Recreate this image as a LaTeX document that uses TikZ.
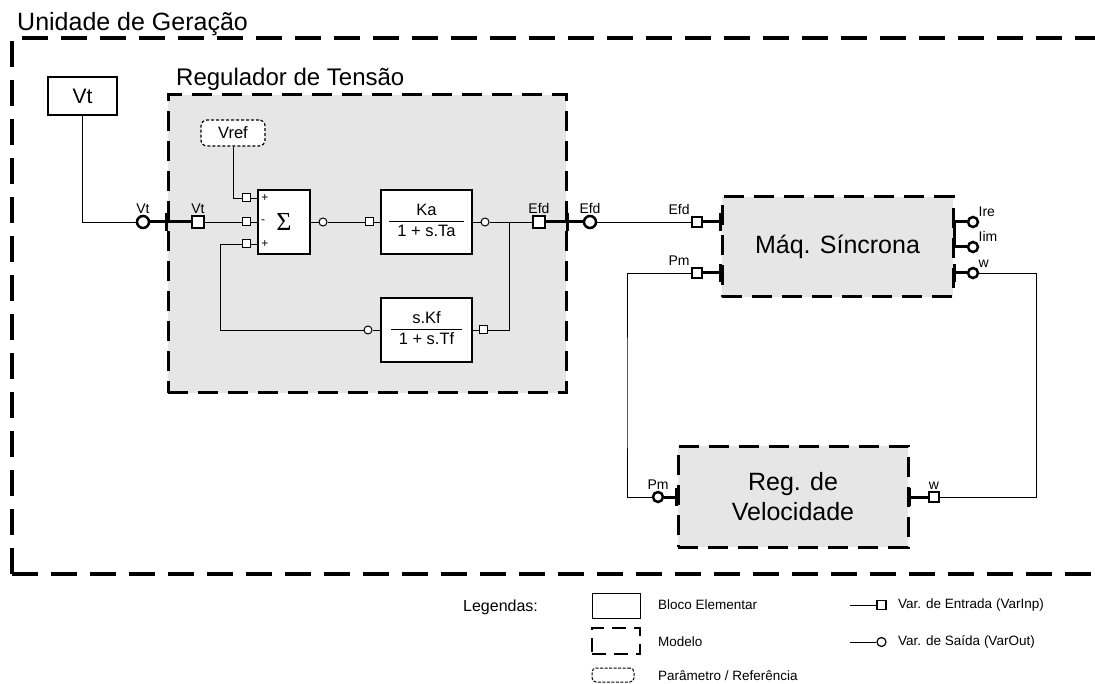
\documentclass[tikz,border=0pt]{standalone}
\usepackage{fontspec}
\setmainfont{Liberation Sans}
\newfontfamily\sigmafont{Liberation Serif}
\usepackage{tikz}
\usetikzlibrary{calc,positioning}
\definecolor{modelgray}{HTML}{E6E6E6}
\setlength{\arrayrulewidth}{1pt}
\tikzset{
  elem/.style     = {draw, fill=white, line width=1.3pt, inner sep=0pt, font=\fontsize{16.5}{19.5}\selectfont},
  modelo/.style   = {draw, fill=modelgray, line width=3pt, dash pattern=on 20pt off 10pt, inner sep=0pt, align=center, font=\fontsize{25}{30}\selectfont},
  param/.style    = {draw, fill=white, rounded corners=6pt, line width=1.2pt, dash pattern=on 3pt off 2pt, font=\fontsize{16.5}{19}\selectfont, minimum width=64pt, minimum height=26pt},
  vin/.style      = {draw, fill=white, rectangle, inner sep=0pt, minimum size=8pt, line width=1pt},
  vout/.style     = {draw, fill=white, circle, inner sep=0pt, minimum size=8pt, line width=1pt},
  vinbig/.style   = {vin, minimum size=12pt, line width=2.5pt},
  voutbig/.style  = {vout, minimum size=12pt, line width=2.5pt},
  vinmid/.style   = {vin, minimum size=10pt, line width=2.5pt},
  voutmid/.style  = {vout, minimum size=10pt, line width=2.5pt},
  wire/.style     = {line width=0.9pt},
  portline/.style = {line width=3pt},
  lbl/.style      = {font=\fontsize{14}{14}\selectfont, inner sep=1pt},
  sign/.style     = {font=\fontsize{12}{12}\selectfont, inner sep=0pt},
  title/.style    = {anchor=base west, inner sep=0pt, font=\fontsize{25}{30}\selectfont},
  legtxt/.style   = {anchor=west, inner sep=0pt, font=\fontsize{13.5}{16}\selectfont},
}
\newcommand{\blkfrac}[2]{\begin{tabular}{@{\hspace{8pt}}c@{\hspace{8pt}}}#1\\\hline #2\end{tabular}}
\newcommand{\porttick}[2]{\draw[portline] (#1 -| #2) ++(0,-9) -- ++(0,18);}

\begin{document}
\begin{tikzpicture}[x=1pt, y=-1pt]
    \useasboundingbox (0,0) rectangle (1095,684);

    % Unidade de Geracao
    \draw[line width=4pt, dash pattern=on 26pt off 13pt] (12,574) -- (12,38) -- (1100,38);
    \draw[line width=4pt, dash pattern=on 26pt off 13pt] (12,574) -- (1100,574);
    \node[title] (tunid) at (17,31) {Unidade de Geração};
    \node[elem, minimum width=69pt, minimum height=38pt, font=\fontsize{21}{25}\selectfont] (vt) at (82.5,96) {Vt};

    % Regulador de Tensao
    \node[modelo, minimum width=398pt, minimum height=298pt] (reg) at (367,244) {};
    \node[title, font=\fontsize{24}{29}\selectfont] (treg) at (176,86) {Regulador de Tensão};
    \node[param] (vref) at (233,133) {Vref};
    \node[elem, minimum width=52pt, minimum height=64pt] (sum) at (284,222) {\sigmafont\fontsize{26}{26}\selectfont Σ};
    \node[elem, minimum width=91pt, minimum height=64pt] (ka) at (426.5,222) {\blkfrac{Ka}{1 + s.Ta}};
    \node[elem, minimum width=91pt, minimum height=64pt] (kf) at (426.5,330) {\blkfrac{s.Kf}{1 + s.Tf}};
    \node[sign] (sp1) at (265,198) {+};
    \node[sign] (sm2) at (263,222) {-};
    \node[sign] (sp3) at (265,244) {+};

    % Ports of the regulator
    \node[voutbig, label={[lbl]above:Vt}] (vtout) at (143,222) {};
    \node[vinbig, label={[lbl]above:Vt}] (vtin) at (198,222) {};
    \node[vin] (s1) at (246,198) {};
    \node[vin] (s2) at (246,222) {};
    \node[vin] (s3) at (246,244) {};
    \node[vout] (sout) at (323,222) {};
    \node[vin] (kain) at (369,222) {};
    \node[vout] (kaout) at (485,222) {};
    \node[vin] (kfin) at (483,330) {};
    \node[vout] (kfout) at (368,330) {};
    \node[vinbig, label={[lbl]above:Efd}] (efdin) at (539,222) {};
    \node[voutbig, label={[lbl]above:Efd}] (efdout) at (590,222) {};

    % Maquina sincrona
    \node[modelo, minimum width=231pt, minimum height=100pt] (maq) at (837.5,247) {Máq. Síncrona};
    \node[vinmid, label={[lbl]above left:Efd}] (mefd) at (697,222) {};
    \node[vinmid, label={[lbl]above left:Pm}] (mpm) at (697,273) {};
    \node[voutmid, label={[lbl]above right:Ire}] (ire) at (973,222) {};
    \node[voutmid, label={[lbl]above right:Iim}] (iim) at (973,247) {};
    \node[voutmid, label={[lbl]above right:w}] (wout) at (973,273) {};

    % Regulador de velocidade
    \node[modelo, minimum width=230pt, minimum height=101pt] (vel) at (793,496.5) {Reg. de\\Velocidade};
    \node[voutmid, label={[lbl]above:Pm}] (vpm) at (658,497) {};
    \node[vinmid, label={[lbl]above:w}] (vw) at (934,497) {};

    % Port lines on the model borders
    \draw[portline] (vtout) -- (vtin);
    \porttick{vtout}{reg.west}
    \draw[portline] (efdin) -- (efdout);
    \porttick{efdin}{reg.east}
    \draw[portline] (mefd) -- (mefd -| maq.west);
    \porttick{mefd}{maq.west}
    \draw[portline] (mpm) -- (mpm -| maq.west);
    \porttick{mpm}{maq.west}
    \draw[portline] (ire) -- (ire -| maq.east);
    \draw[portline] (iim) -- (iim -| maq.east);
    \draw[portline, line cap=rect] (ire -| maq.east) -- (iim -| maq.east);
    \draw[portline] (wout) -- (wout -| maq.east);
    \porttick{wout}{maq.east}
    \draw[portline] (vpm) -- (vpm -| vel.west);
    \porttick{vpm}{vel.west}
    \draw[portline] (vw) -- (vw -| vel.east);
    \porttick{vw}{vel.east}

    % Signal wires
    \coordinate (jn) at (509,222);
    \coordinate (fb) at (220,330);
    \coordinate (wr) at (1036,400);
    \coordinate (pl) at (627,400);
    \draw[wire] (vt.south) |- (vtout.west);
    \draw[wire] (vtin) -- (s2);
    \draw[wire] (vref.south) |- (s1.west);
    \draw[wire] (s1) -- (s1 -| sum.west);
    \draw[wire] (s2) -- (s2 -| sum.west);
    \draw[wire] (s3) -- (s3 -| sum.west);
    \draw[wire] (sum) -- (sout);
    \draw[wire] (sout) -- (kain);
    \draw[wire] (kain) -- (ka);
    \draw[wire] (ka) -- (kaout);
    \draw[wire] (kaout) -- (efdin);
    \draw[wire] (jn) |- (kfin);
    \draw[wire] (kfin) -- (kf);
    \draw[wire] (kf) -- (kfout);
    \draw[wire] (s3.west) -| (fb) -- (kfout);
    \draw[wire] (efdout) -- (mefd);
    \draw[wire] (wout.east) -| (wr) |- (vw.east);
    \draw[wire] (vpm.west) -| (pl) |- (mpm.west);

    % Legendas
    \node[legtxt, font=\fontsize{16}{19}\selectfont] (leg) at (463,607) {Legendas:};
    \node[draw, line width=1pt, minimum width=48pt, minimum height=25pt] (lbloco) at (616,605.5) {};
    \node[legtxt] (tbloco) at (658,605) {Bloco Elementar};
    \node[draw, line width=2pt, dash pattern=on 14pt off 8pt, minimum width=48pt, minimum height=26pt] (lmod) at (616,641) {};
    \node[legtxt] (tmod) at (658,642) {Modelo};
    \node[draw, rounded corners=4pt, line width=1pt, dash pattern=on 3pt off 1.5pt, minimum width=42pt, minimum height=14pt] (lpar) at (613,675) {};
    \node[legtxt] (tpar) at (658,676) {Parâmetro / Referência};
    \coordinate (lina) at (850,605);
    \node[vin, minimum size=9pt, line width=1.2pt] (lin) at (881.5,605) {};
    \draw[wire] (lina) -- (lin);
    \node[legtxt] (tin) at (898,605) {Var. de Entrada (VarInp)};
    \coordinate (louta) at (850,642);
    \node[vout, minimum size=9pt, line width=1.2pt] (lout) at (881.5,642) {};
    \draw[wire] (louta) -- (lout);
    \node[legtxt] (tout) at (898,642) {Var. de Saída (VarOut)};
  \end{tikzpicture}
\end{document}
